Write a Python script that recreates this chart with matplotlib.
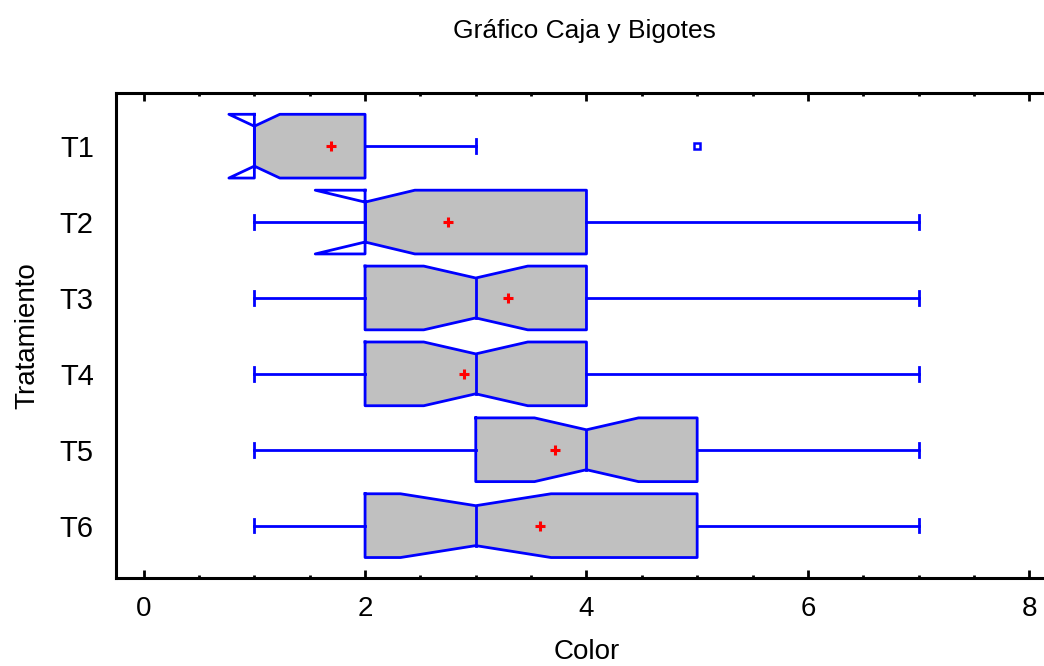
import matplotlib
matplotlib.use("Agg")
from matplotlib import pyplot as plt
from matplotlib.patches import Rectangle
from matplotlib.ticker import MultipleLocator

plt.rcParams['font.family'] = ['Liberation Sans', 'DejaVu Sans']

# box statistics
labels = ['T1', 'T2', 'T3', 'T4', 'T5', 'T6']
q1 = [1, 2, 2, 2, 3, 2]
med = [1, 2, 3, 3, 4, 3]
q3 = [2, 4, 4, 4, 5, 5]
whis_lo = [1, 1, 1, 1, 1, 1]
whis_hi = [3, 7, 7, 7, 7, 7]
notch_lo = [0.77, 1.55, 2.53, 2.53, 3.53, 2.32]
notch_hi = [1.23, 2.45, 3.47, 3.47, 4.47, 3.68]
means = [1.69, 2.75, 3.29, 2.89, 3.72, 3.58]
out_group = [1]
out_value = [5]

blue = '#0000FF'
gray = '#C0C0C0'
half = 0.42      # half box height
waist = 0.263    # half height at the notch
cap = 0.09
lw = 2.0

fig = plt.figure(figsize=(10.44, 6.66), dpi=100)
ax = fig.add_axes([0.1111, 0.1321, 0.9013, 0.7282])

for i in range(len(labels)):
    y = i + 1
    top, bot = y - half, y + half
    wt, wb = y - waist, y + waist
    xs = [q1[i], notch_lo[i], med[i], notch_hi[i], q3[i], q3[i],
          notch_hi[i], med[i], notch_lo[i], q1[i], q1[i]]
    ys = [top, top, wt, top, top, bot, bot, wb, bot, bot, top]
    # grey fill only inside the box itself
    f = ax.fill(xs, ys, color=gray, lw=0, zorder=1)[0]
    clip = Rectangle((q1[i], top), q3[i] - q1[i], bot - top, transform=ax.transData)
    f.set_clip_path(clip)
    ax.plot(xs, ys, color=blue, lw=lw, solid_joinstyle='round', zorder=3)
    ax.plot([med[i], med[i]], [wt, wb], color=blue, lw=lw, zorder=3)
    # whiskers and caps
    if whis_lo[i] < q1[i]:
        ax.plot([whis_lo[i], q1[i]], [y, y], color=blue, lw=lw, zorder=2)
        ax.plot([whis_lo[i], whis_lo[i]], [y - cap, y + cap], color=blue, lw=lw, zorder=2)
    if whis_hi[i] > q3[i]:
        ax.plot([q3[i], whis_hi[i]], [y, y], color=blue, lw=lw, zorder=2)
        ax.plot([whis_hi[i], whis_hi[i]], [y - cap, y + cap], color=blue, lw=lw, zorder=2)
    ax.plot(means[i], y, marker='+', color='red', ms=7, mew=2.2, zorder=4)

ax.plot(out_value, out_group, ls='none', marker='s', ms=5, mfc='white',
        mec=blue, mew=1.8, zorder=4)

ax.set_xlim(-0.25, 8.25)
ax.set_ylim(6.69, 0.3)
ax.set_yticks(range(1, len(labels) + 1))
ax.set_yticklabels(labels)
ax.xaxis.set_major_locator(MultipleLocator(2))
ax.xaxis.set_minor_locator(MultipleLocator(0.5))
ax.tick_params(axis='x', which='both', direction='in', top=True, bottom=True,
               labelsize=20, pad=13, width=2)
ax.tick_params(axis='x', which='major', length=6)
ax.tick_params(axis='x', which='minor', length=2)
ax.tick_params(axis='y', length=0, labelsize=21, pad=16)
for s in ax.spines.values():
    s.set_linewidth(2.2)

ax.set_xlabel('Color', fontsize=20, labelpad=12)
ax.set_ylabel('Tratamiento', fontsize=20, labelpad=14)
fig.text(0.56, 0.953, 'Gráfico Caja y Bigotes', ha='center', va='center', fontsize=19)

fig.savefig('out.png', dpi=100)
